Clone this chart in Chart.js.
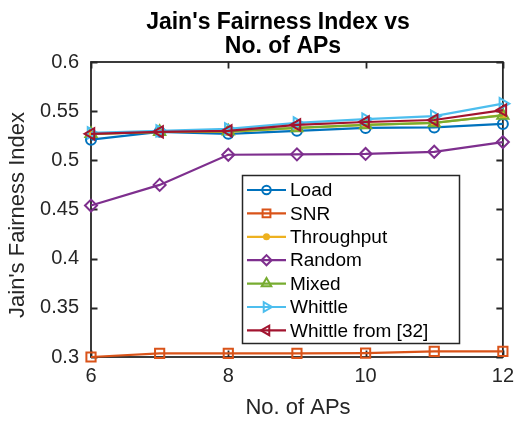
<!DOCTYPE html>
<html>
<head>
<meta charset="utf-8">
<title>Jain's Fairness Index vs No. of APs</title>
<script src="https://cdn.jsdelivr.net/npm/chart.js@4/dist/chart.umd.min.js"></script>
<style>
  html, body { margin: 0; padding: 0; background: #ffffff; }
  #wrap { width: 521px; height: 421px; }
</style>
</head>
<body>
<div id="wrap"><canvas id="chart" width="521" height="421"></canvas></div>
<script>
// Number of access points (x axis)
const apCounts = [6, 7, 8, 9, 10, 11, 12];

// Jain's fairness index per association scheme
const loadValues       = [0.521, 0.529, 0.527, 0.530, 0.533, 0.5335, 0.537];
const snrValues        = [0.300, 0.3037, 0.3037, 0.3037, 0.304, 0.3057, 0.3057];
const throughputValues = [0.527, 0.529, 0.529, 0.533, 0.536, 0.538, 0.546];
const randomValues     = [0.454, 0.475, 0.5057, 0.5061, 0.5065, 0.5087, 0.5186];
const mixedValues      = [0.527, 0.529, 0.5295, 0.533, 0.536, 0.538, 0.5457];
const whittleValues    = [0.528, 0.530, 0.532, 0.538, 0.542, 0.545, 0.5576];
const whittle32Values  = [0.527, 0.529, 0.530, 0.536, 0.539, 0.541, 0.551];

const seriesNames = ['Load', 'SNR', 'Throughput', 'Random', 'Mixed', 'Whittle', 'Whittle from [32]'];

// Axis ticks
const xTicks = [6, 8, 10, 12];
const yTicks = [0.3, 0.35, 0.4, 0.45, 0.5, 0.55, 0.6];

const FONT = '"Liberation Sans", Arial, Helvetica, sans-serif';
const AXIS_COLOR = '#262626';

const seriesStyles = [
  { color: '#0072BD', pointStyle: 'circle',   radius: 5,   rotation: 0,   filled: false },
  { color: '#D95319', pointStyle: 'rect',     radius: 6.5, rotation: 0,   filled: false },
  { color: '#EDB120', pointStyle: 'circle',   radius: 3,   rotation: 0,   filled: true  },
  { color: '#7E2F8E', pointStyle: 'rectRot',  radius: 6,   rotation: 0,   filled: false },
  { color: '#77AC30', pointStyle: 'triangle', radius: 6.5, rotation: 0,   filled: false },
  { color: '#4DBEEE', pointStyle: 'triangle', radius: 6.5, rotation: 90,  filled: false },
  { color: '#A2142F', pointStyle: 'triangle', radius: 6.5, rotation: -90, filled: false }
];

const seriesValues = [loadValues, snrValues, throughputValues, randomValues, mixedValues, whittleValues, whittle32Values];

const datasets = seriesValues.map((vals, i) => {
  const s = seriesStyles[i];
  return {
    label: seriesNames[i],
    data: apCounts.map((x, k) => ({ x: x, y: vals[k] })),
    borderColor: s.color,
    backgroundColor: s.color,
    borderWidth: 2.2,
    pointStyle: s.pointStyle,
    pointRadius: s.radius,
    pointRotation: s.rotation,
    pointBorderWidth: 2,
    pointBorderColor: s.color,
    pointBackgroundColor: s.filled ? s.color : 'rgba(0,0,0,0)',
    pointHoverRadius: s.radius,
    tension: 0,
    clip: false,
    // later series are painted above earlier ones
    order: seriesValues.length - i
  };
});

// Axes box with inward tick marks on all four sides
const boxPlugin = {
  id: 'axesBox',
  beforeDatasetsDraw(chart) {
    const { ctx, chartArea: a, scales } = chart;
    const tl = 6.5;
    ctx.save();
    ctx.strokeStyle = AXIS_COLOR;
    ctx.lineWidth = 1.8;
    ctx.strokeRect(a.left, a.top, a.right - a.left, a.bottom - a.top);
    ctx.beginPath();
    xTicks.forEach(v => {
      const px = Math.round(scales.x.getPixelForValue(v)) + 0.5;
      ctx.moveTo(px, a.bottom); ctx.lineTo(px, a.bottom - tl);
      ctx.moveTo(px, a.top);    ctx.lineTo(px, a.top + tl);
    });
    yTicks.forEach(v => {
      const py = Math.round(scales.y.getPixelForValue(v)) + 0.5;
      ctx.moveTo(a.left, py);  ctx.lineTo(a.left + tl, py);
      ctx.moveTo(a.right, py); ctx.lineTo(a.right - tl, py);
    });
    ctx.stroke();
    ctx.restore();
  }
};

function drawMarker(ctx, s, x, y) {
  const r = s.radius * 0.85;
  const opts = { pointStyle: s.pointStyle, radius: r, rotation: s.rotation, borderWidth: 2 };
  ctx.fillStyle = s.filled ? s.color : 'rgba(0,0,0,0)';
  ctx.strokeStyle = s.color;
  ctx.lineWidth = 2;
  if (Chart.helpers && Chart.helpers.drawPoint) {
    Chart.helpers.drawPoint(ctx, opts, x, y);
    return;
  }
  ctx.beginPath();
  ctx.arc(x, y, r, 0, Math.PI * 2);
  ctx.fill();
  ctx.stroke();
}

// Titles and the boxed legend
const annotatePlugin = {
  id: 'annotate',
  afterDraw(chart) {
    const { ctx } = chart;
    ctx.save();

    // chart title
    ctx.fillStyle = '#000000';
    ctx.font = 'bold 23px ' + FONT;
    ctx.textAlign = 'center';
    ctx.textBaseline = 'alphabetic';
    ctx.fillText("Jain's Fairness Index vs", 278, 29);
    ctx.fillText('No. of APs', 283, 53);

    // axis titles
    ctx.fillStyle = AXIS_COLOR;
    ctx.font = '22px ' + FONT;
    ctx.fillText('No. of APs', 298, 414);
    ctx.save();
    ctx.translate(24, 215);
    ctx.rotate(-Math.PI / 2);
    ctx.fillText("Jain's Fairness Index", 0, 0);
    ctx.restore();

    // legend
    const lx = 242.5, ly = 175.5, lw = 217, lh = 168;
    ctx.fillStyle = '#ffffff';
    ctx.fillRect(lx, ly, lw, lh);
    ctx.strokeStyle = AXIS_COLOR;
    ctx.lineWidth = 1.5;
    ctx.strokeRect(lx, ly, lw, lh);

    const rowH = 23.4;
    ctx.font = '19px ' + FONT;
    ctx.textAlign = 'left';
    ctx.textBaseline = 'middle';
    seriesNames.forEach((name, i) => {
      const s = seriesStyles[i];
      const cy = 190 + i * rowH;
      ctx.strokeStyle = s.color;
      ctx.lineWidth = 2.2;
      ctx.beginPath();
      ctx.moveTo(247, cy);
      ctx.lineTo(286, cy);
      ctx.stroke();
      drawMarker(ctx, s, 266.5, cy);
      ctx.fillStyle = '#000000';
      ctx.fillText(name, 290, cy + 1);
    });
    ctx.restore();
  }
};

new Chart(document.getElementById('chart'), {
  type: 'line',
  data: { datasets: datasets },
  options: {
    responsive: false,
    animation: false,
    devicePixelRatio: 1,
    layout: { padding: { left: 0, top: 62, right: 9, bottom: 0 } },
    plugins: {
      legend: { display: false },
      title: { display: false },
      tooltip: { enabled: false }
    },
    scales: {
      x: {
        type: 'linear',
        min: 6,
        max: 12,
        afterBuildTicks(scale) { scale.ticks = xTicks.map(v => ({ value: v })); },
        afterFit(scale) { scale.height = 64; },
        grid: { display: false, drawTicks: false },
        border: { display: false },
        ticks: {
          color: AXIS_COLOR,
          font: { family: FONT, size: 20 },
          padding: 7,
          maxRotation: 0,
          callback: v => String(v)
        }
      },
      y: {
        type: 'linear',
        min: 0.3,
        max: 0.6,
        afterBuildTicks(scale) { scale.ticks = yTicks.map(v => ({ value: v })); },
        afterFit(scale) { scale.width = 91; },
        grid: { display: false, drawTicks: false },
        border: { display: false },
        ticks: {
          color: AXIS_COLOR,
          font: { family: FONT, size: 20 },
          padding: 12,
          callback: v => String(Math.round(v * 100) / 100)
        }
      }
    }
  },
  plugins: [boxPlugin, annotatePlugin]
});
</script>
</body>
</html>
